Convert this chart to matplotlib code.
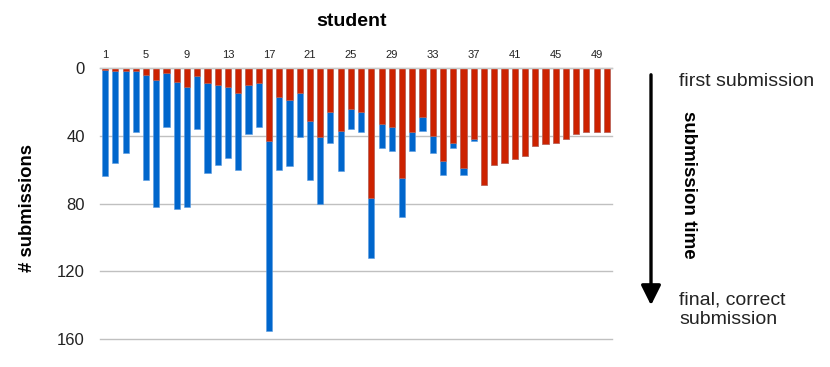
import numpy as np
import matplotlib
matplotlib.use("Agg")
import matplotlib.pyplot as plt

plt.rcParams['font.family'] = ['Liberation Sans', 'DejaVu Sans']

# submissions per student: red = before first correct, total = all submissions
students = list(range(1, 51))
red_part = [1, 2, 2, 2, 4, 7, 3, 8, 11, 4.5, 8.7, 10, 11, 15, 10, 8.7, 43, 17, 19, 15,
            31, 41, 26, 37, 24, 26, 77, 33, 35, 65, 38, 29, 40, 55, 44, 59, 42, 69, 57, 56,
            54, 52, 46, 45, 44, 42, 39, 38, 38, 38]
total = [64, 56, 50, 38, 66, 82, 35, 83, 82, 36, 62, 57, 53, 60, 39, 35, 155, 60, 58, 41,
         66, 80, 44, 61, 36, 38, 112, 47, 49, 88, 49, 37, 50, 63, 47, 63, 43, 69, 57, 56,
         54, 52, 46, 45, 44, 42, 39, 38, 38, 38]
y_ticks = [0, 40, 80, 120, 160]
y_labels = ["0", "40", "80", "120", "160"]
x_label_students = students[::4]

red = "#cc2200"
blue = "#0066cc"

fig = plt.figure(figsize=(8.3, 3.67), dpi=100)
ax = fig.add_axes([100/830, 1 - 339/367, 512/830, (339 - 68)/367])

x = np.arange(len(students))
ax.bar(x, total, width=0.6, color=blue, edgecolor="#5a9be0", linewidth=0.4, zorder=2)
ax.bar(x, red_part, width=0.6, color=red, edgecolor="#e07050", linewidth=0.4, zorder=3)

ax.set_xlim(-0.5, len(students) - 0.5)
ax.set_ylim(160, 0)
ax.set_yticks(y_ticks)
ax.set_yticklabels(y_labels, fontsize=12, color="#222222")
ax.yaxis.grid(True, color="#c0c0c0", linewidth=1)
for gl in ax.get_ygridlines():
    gl.set_clip_on(False)
ax.axhline(0, color="#c8c8c8", linewidth=1, zorder=4, clip_on=False)
ax.set_axisbelow(True)
ax.tick_params(axis="y", length=0, pad=11)

ax.xaxis.tick_top()
ax.set_xticks([s - 1 for s in x_label_students])
ax.set_xticklabels([str(s) for s in x_label_students], fontsize=8, color="#222222")
ax.tick_params(axis="x", length=0, pad=6)
for sp in ax.spines.values():
    sp.set_visible(False)

fig.text(352/830, 1 - 21/367, "student", ha="center", va="center",
         fontsize=14, fontweight="bold")
fig.text(28/830, 1 - 208/367, "# submissions", ha="center", va="center",
         rotation=90, fontsize=13.3, fontweight="bold")

# submission-time arrow on the right
fig.add_artist(matplotlib.patches.FancyArrowPatch(
    (651/830, 1 - 72/367), (651/830, 1 - 308/367), transform=fig.transFigure,
    arrowstyle="-|>,head_length=10,head_width=5", color="black", linewidth=2.4,
    mutation_scale=1.2))
fig.text(679/830, 1 - 81/367, "first submission", ha="left", va="center",
         fontsize=14, color="#222222")
fig.text(688/830, 1 - 185/367, "submission time", ha="center", va="center",
         rotation=-90, fontsize=13.5, fontweight="bold")
fig.text(679/830, 1 - 310/367, "final, correct\nsubmission", ha="left", va="center",
         fontsize=14, color="#222222", linespacing=1.2)

fig.savefig("out.png", dpi=100)
